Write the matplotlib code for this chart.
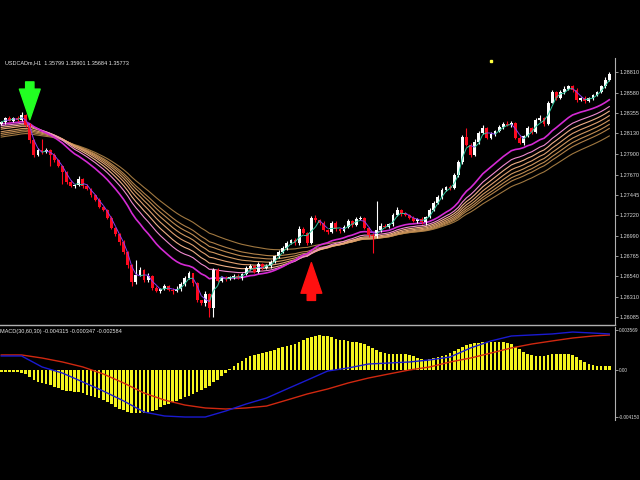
import numpy as np
import pandas as pd
import matplotlib
matplotlib.use("Agg")
import matplotlib.pyplot as plt
from matplotlib.collections import LineCollection

# USDCAD H1 closes, one per bar (open = previous close)
first_open = 1.2823
closes = [
    1.2825, 1.2830, 1.2827, 1.2830, 1.2828, 1.2833, 1.2822, 1.2805, 1.2789, 1.2794,
    1.2792, 1.2794, 1.2789, 1.2783, 1.2776, 1.2770, 1.2759, 1.2754, 1.2755, 1.2762,
    1.2754, 1.2751, 1.2744, 1.2739, 1.2731, 1.2728, 1.2719, 1.2708, 1.2701, 1.2692,
    1.2681, 1.2666, 1.2647, 1.2655, 1.2661, 1.2650, 1.2654, 1.2641, 1.2637, 1.2640,
    1.2643, 1.2639, 1.2637, 1.2640, 1.2645, 1.2652, 1.2657, 1.2646, 1.2627, 1.2624,
    1.2634, 1.2619, 1.2661, 1.2649, 1.2652, 1.2651, 1.2653, 1.2654, 1.2652, 1.2656,
    1.2663, 1.2665, 1.2659, 1.2668, 1.2663, 1.2665, 1.2670, 1.2676, 1.2681, 1.2685,
    1.2691, 1.2694, 1.2691, 1.2706, 1.2702, 1.2691, 1.2719, 1.2716, 1.2713, 1.2705,
    1.2703, 1.2713, 1.2706, 1.2704, 1.2709, 1.2715, 1.2711, 1.2718, 1.2719, 1.2708,
    1.2700, 1.2699, 1.2705, 1.2710, 1.2709, 1.2712, 1.2722, 1.2728, 1.2723, 1.2722,
    1.2719, 1.2715, 1.2718, 1.2714, 1.2720, 1.2728, 1.2735, 1.2742, 1.2750, 1.2753,
    1.2752, 1.2766, 1.2781, 1.2809, 1.2800, 1.2789, 1.2803, 1.2813, 1.2819, 1.2808,
    1.2812, 1.2815, 1.2820, 1.2823, 1.2822, 1.2824, 1.2808, 1.2802, 1.2810, 1.2819,
    1.2814, 1.2828, 1.2830, 1.2823, 1.2847, 1.2859, 1.2852, 1.2859, 1.2862, 1.2865,
    1.2861, 1.2850, 1.2852, 1.2849, 1.2852, 1.2855, 1.2859, 1.2865, 1.2872, 1.2879,
]
# wick lengths beyond the body, in pips
wick_up = [
    2, 1, 2, 1, 2, 3, 1, 2, 1, 2,
    13, 2, 1, 2, 1, 2, 1, 2, 1, 3,
    1, 2, 1, 1, 2, 1, 1, 2, 1, 1,
    2, 1, 2, 17, 3, 1, 4, 1, 2, 1,
    2, 1, 2, 3, 2, 2, 3, 1, 2, 1,
    3, 1, 2, 2, 1, 2, 1, 2, 2, 1,
    2, 3, 1, 2, 1, 2, 2, 1, 2, 3,
    2, 1, 2, 4, 3, 1, 2, 3, 1, 2,
    1, 2, 2, 1, 2, 3, 1, 2, 2, 1,
    1, 2, 33, 3, 2, 1, 2, 3, 1, 2,
    1, 2, 1, 2, 1, 2, 3, 2, 2, 1,
    2, 3, 2, 2, 10, 2, 3, 2, 3, 1,
    2, 1, 2, 2, 3, 2, 1, 2, 1, 2,
    1, 2, 3, 1, 2, 2, 1, 2, 3, 2,
    1, 2, 1, 2, 1, 2, 1, 2, 3, 2,
]
wick_dn = [
    1, 2, 1, 2, 1, 2, 2, 3, 2, 1,
    2, 1, 13, 2, 1, 14, 2, 1, 2, 1,
    2, 1, 2, 2, 1, 2, 1, 2, 2, 3,
    2, 3, 4, 2, 1, 2, 3, 2, 1, 2,
    1, 2, 3, 1, 2, 2, 1, 3, 2, 2,
    3, 10, 10, 2, 1, 2, 1, 2, 1, 2,
    1, 2, 2, 1, 2, 1, 2, 1, 2, 1,
    2, 1, 2, 2, 1, 2, 1, 2, 2, 1,
    2, 1, 2, 2, 1, 1, 2, 1, 2, 2,
    2, 19, 3, 2, 1, 2, 2, 1, 2, 1,
    2, 1, 2, 2, 3, 1, 2, 1, 2, 1,
    2, 1, 2, 2, 1, 2, 1, 2, 1, 2,
    1, 2, 1, 2, 1, 2, 2, 1, 2, 1,
    2, 1, 2, 2, 1, 1, 2, 1, 2, 1,
    2, 2, 1, 2, 1, 2, 1, 1, 2, 1,
]

# EMA ribbon: periods and values at the first bar
ema_periods = [20, 26, 30, 34, 38, 42, 46, 54]
ema_start = [1.2823, 1.2821, 1.2819, 1.2817, 1.2814, 1.2812, 1.2810, 1.2808]
ema_colors = ["#d42ad4", "#f08ad0", "#f0b088", "#e0a070", "#d09860",
              "#c08c52", "#b08048", "#a07840"]

price_ticks = [1.28810, 1.28580, 1.28355, 1.28130, 1.27900, 1.27670, 1.27445,
               1.27220, 1.26990, 1.26765, 1.26540, 1.26310, 1.26085]

sell_signals = [(7, 1.2828)]
buy_signals = [(76, 1.2669)]
marker_dot = [(120, 1.2893)]

# MACD(30,60,30) histogram, in points (1e-5)
hist_pts = [
    -18, -18, -18, -18, -18, -27, -35, -62, -89, -106,
    -115, -124, -133, -150, -159, -177, -186, -186, -195, -195,
    -204, -221, -230, -239, -248, -266, -283, -301, -327, -345,
    -354, -372, -381, -381, -381, -381, -381, -363, -354, -327,
    -310, -301, -283, -274, -257, -239, -230, -212, -195, -177,
    -159, -142, -106, -89, -53, -27, 9, 35, 62, 80,
    106, 124, 133, 142, 150, 159, 168, 177, 195, 204,
    212, 221, 230, 248, 266, 283, 292, 301, 310, 301,
    301, 292, 274, 266, 266, 257, 248, 248, 239, 230,
    212, 195, 177, 159, 150, 142, 142, 142, 142, 142,
    133, 124, 106, 97, 89, 97, 106, 115, 124, 133,
    150, 168, 186, 204, 221, 230, 239, 239, 248, 248,
    248, 248, 248, 248, 239, 230, 204, 186, 159, 142,
    133, 124, 124, 124, 133, 142, 142, 142, 142, 142,
    133, 115, 89, 71, 53, 44, 35, 35, 35, 35,
]
macd_bars = [0, 5, 10, 15, 20, 25, 30, 35, 40, 45, 50, 55, 60, 65, 70, 75,
             80, 85, 90, 95, 100, 105, 110, 115, 120, 125, 130, 135, 140, 145, 149]
macd_pts = [124, 124, 27, -27, -106, -186, -274, -372, -407, -416, -416, -363,
            -301, -248, -168, -89, -9, 18, 53, 62, 71, 89, 115, 195, 257, 301,
            310, 319, 336, 327, 319]
signal_pts = [133, 133, 106, 71, 27, -35, -115, -204, -266, -310, -336, -345,
              -336, -319, -266, -212, -168, -115, -71, -35, 0, 27, 71, 106, 150,
              195, 230, 257, 283, 301, 310]
macd_ticks = [0.003569, 0.0, -0.004150]
macd_tick_labels = ["0.003569", "0.00", "-0.004150"]

title_text = "USDCADm,H1  1.35799 1.35901 1.35684 1.35773"
macd_text = "MACD(30,60,30) -0.004315 -0.000347 -0.002584"

plt.rcParams["font.family"] = ["Liberation Sans", "DejaVu Sans"]

close = np.array(closes)
opens = np.concatenate([[first_open], close[:-1]])
highs = np.maximum(opens, close) + np.array(wick_up) * 0.0001
lows = np.minimum(opens, close) - np.array(wick_dn) * 0.0001
x = np.arange(len(close))
up = close >= opens

fig = plt.figure(figsize=(6.4, 4.8), dpi=100, facecolor="black")
W, H = 640.0, 480.0
ax = fig.add_axes([0, (H - 325) / H, 615 / W, (325 - 58) / H], facecolor="black")
ax2 = fig.add_axes([0, (H - 420) / H, 615 / W, (420 - 327) / H], facecolor="black")

# --- EMA ribbon (slowest first so the fast ones sit on top)
for period, start, col in reversed(list(zip(ema_periods, ema_start, ema_colors))):
    a = 2.0 / (period + 1)
    vals = []
    e = start
    for c in close:
        e = e + a * (c - e)
        vals.append(e)
    lw = 1.2 if col == ema_colors[0] else 0.8
    ax.plot(x, vals, color=col, lw=lw, zorder=2)

# --- candles
body_lo = np.minimum(opens, close)
body_h = np.maximum(np.abs(close - opens), 0.00003)
cols = np.where(up, "#ffffff", "#ff0a1e")
ax.vlines(x, lows, highs, colors=cols, lw=0.8, zorder=3)
ax.bar(x, body_h, bottom=body_lo, width=0.7, color=cols, linewidth=0, zorder=4)

# --- short smoothing line coloured by direction
sm = pd.Series(close).rolling(3, min_periods=1).mean().values
segs = [[(x[i], sm[i]), (x[i + 1], sm[i + 1])] for i in range(len(x) - 1)]
seg_cols = ["#30c8a0" if sm[i + 1] >= sm[i] else "#8a3cf0" for i in range(len(x) - 1)]
ax.add_collection(LineCollection(segs, colors=seg_cols, linewidths=0.7, zorder=5))

# --- signal arrows
for i, p in sell_signals:
    ax.annotate("", xy=(i, p), xytext=(i, p + 0.0042),
                arrowprops=dict(arrowstyle="simple,head_length=1.1,head_width=0.75,tail_width=0.3",
                                color="#22ff22", mutation_scale=20, shrinkA=0, shrinkB=0), zorder=6)
for i, p in buy_signals:
    ax.annotate("", xy=(i, p), xytext=(i, p - 0.0042),
                arrowprops=dict(arrowstyle="simple,head_length=1.1,head_width=0.75,tail_width=0.3",
                                color="#ff1010", mutation_scale=20, shrinkA=0, shrinkB=0), zorder=6)
for i, p in marker_dot:
    ax.plot(i, p, marker="s", ms=1.5, color="#ffff40", zorder=6)

ax.set_xlim(-0.3, 150.4)
ax.set_ylim(1.28810 - 253 * 0.0001112, 1.28810 + 14 * 0.0001112)

# --- MACD panel
ax2.bar(x, np.array(hist_pts) * 1e-5, width=0.65, color="#f4f41e", linewidth=0, zorder=2)
ax2.plot(macd_bars, np.array(signal_pts) * 1e-5, color="#d02810", lw=1.0, zorder=3)
ax2.plot(macd_bars, np.array(macd_pts) * 1e-5, color="#1a1ad0", lw=1.0, zorder=4)
ax2.set_xlim(-0.3, 150.4)
ax2.set_ylim(-50 * 0.0000885, 43 * 0.0000885)

for a_ in (ax, ax2):
    for side in ("left", "top", "bottom"):
        a_.spines[side].set_visible(False)
    a_.spines["right"].set_color("#b0b0b0")
    a_.spines["right"].set_linewidth(0.8)
    a_.set_xticks([])
    a_.yaxis.tick_right()
    a_.tick_params(axis="y", colors="#b0b0b0", labelcolor="#d8d8d8", labelsize=4,
                   length=2, width=0.6, pad=1)
ax2.tick_params(axis="y", labelsize=3.4)
ax.spines["bottom"].set_visible(True)
ax.spines["bottom"].set_color("#b0b0b0")
ax.spines["bottom"].set_linewidth(1.0)

ax.set_yticks(price_ticks)
ax.set_yticklabels([f"{t:.5f}" for t in price_ticks])
ax2.set_yticks(macd_ticks)
ax2.set_yticklabels(macd_tick_labels)

fig.text(5 / W, 1 - 63 / H, title_text, color="#e8e8e8", fontsize=4, va="center")
fig.text(0, 1 - 331 / H, macd_text, color="#e8e8e8", fontsize=4, va="center")

fig.savefig("out.png", dpi=100, facecolor="black")
